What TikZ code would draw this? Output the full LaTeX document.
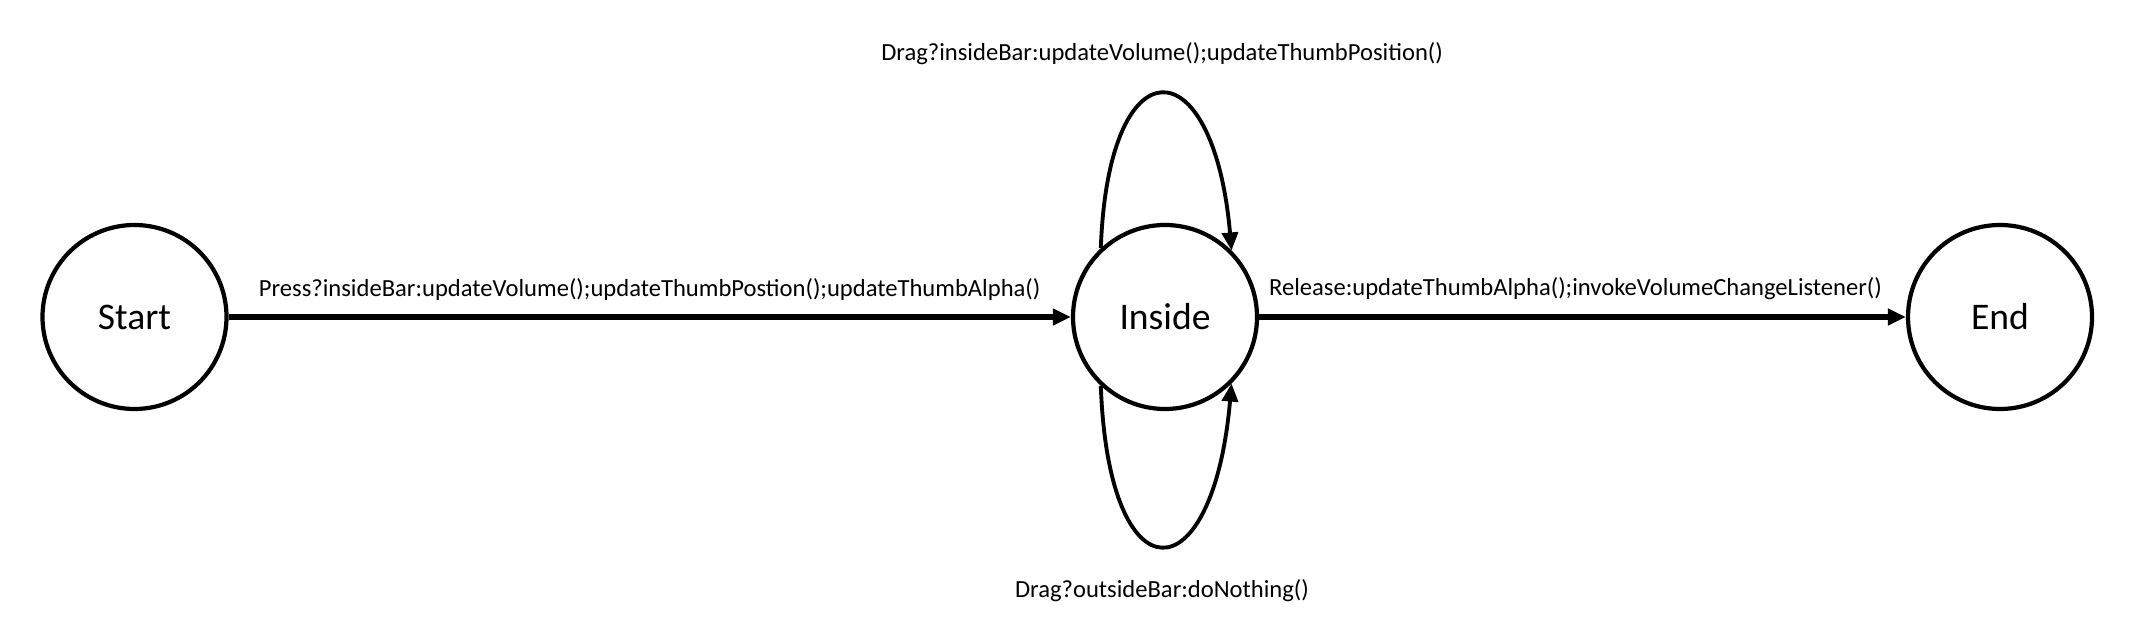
\documentclass[tikz,border=0pt]{standalone}
\usepackage{fontspec}
\setmainfont{Carlito}
\usetikzlibrary{arrows.meta}

\begin{document}
\begin{tikzpicture}[>={Triangle[length=1.8mm,width=1.6mm]}]
	\useasboundingbox (0,0) rectangle (21.43,-6.39);
	\begin{scope}[every node/.style={circle,line width=1.2pt,draw,minimum size=1.84cm,inner sep=0pt,font=\fontsize{10.7}{12}\selectfont}]
	\node (S) at (1.345,-3.17) {Start};
	\node (I) at (11.65,-3.17) {Inside};
	\node (E) at (20.00,-3.17) {End};
	\end{scope}
	\tikzset{lbl/.style={font=\fontsize{7}{8}\selectfont,inner sep=1pt}}
	\draw [line width=1.6pt,->] (S) -- node[lbl,above=3pt]{Press?insideBar:updateVolume();updateThumbPostion();updateThumbAlpha()} (I);
	\draw [line width=1.6pt,->] (I) -- node[lbl,above=3pt,xshift=-0.07cm]{Release:updateThumbAlpha();invokeVolumeChangeListener()} (E);
	\draw [line width=1.1pt,->] (I.133) .. controls +(88:2.07) and +(95:2.07) .. node[lbl,above=7pt]{Drag?insideBar:updateVolume();updateThumbPosition()} (I.45);
	\draw [line width=1.1pt,->] (I.-133) .. controls +(-88:2.15) and +(-95:2.15) .. node[lbl,below=8pt]{Drag?outsideBar:doNothing()} (I.-45);
\end{tikzpicture}
\end{document}
